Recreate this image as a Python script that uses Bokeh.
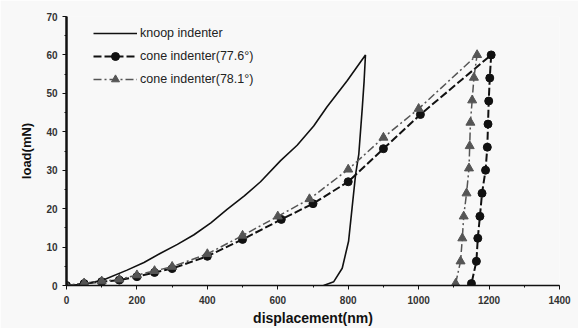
from bokeh.plotting import figure
from bokeh.models import Range1d, FixedTicker, Legend, LegendItem
from bokeh.embed import file_html
from bokeh.resources import INLINE

# knoop indenter (loading + unloading)
knoop_x = [0, 50, 106, 172, 220, 267, 315, 362, 410, 456, 505, 551, 608, 655, 702, 740, 797, 849,
           845, 840, 830, 821, 811, 801, 783, 759, 730]
knoop_y = [0, 0.3, 1.5, 4.0, 6.0, 8.4, 10.7, 13.2, 16.3, 19.8, 23.3, 27.0, 32.5, 36.5, 41.5, 46.5, 53.3, 60.0,
           53.0, 46.3, 34.1, 28.9, 20.2, 11.5, 4.5, 1.0, 0]

# cone indenter (77.6 deg)
cone776_x = [0, 50, 100, 150, 200, 250, 300, 400, 500, 610, 700, 800, 900, 1005, 1206,
             1202, 1199, 1197, 1195, 1190, 1180, 1174, 1168, 1164, 1150]
cone776_y = [0, 0.5, 1.0, 1.4, 2.3, 3.4, 4.4, 7.6, 12.0, 17.2, 21.3, 27.0, 35.6, 44.5, 60.0,
             54.0, 48.0, 42.0, 36.0, 30.0, 24.0, 18.0, 12.3, 6.3, 0.5]

# cone indenter (78.1 deg)
cone781_x = [0, 50, 100, 150, 200, 250, 300, 400, 500, 600, 690, 800, 900, 1000, 1166,
             1157, 1152, 1147, 1145, 1143, 1136, 1128, 1124, 1119, 1105]
cone781_y = [0, 0.6, 1.1, 1.6, 2.7, 3.8, 4.9, 8.2, 13.0, 18.0, 22.5, 30.2, 38.5, 46.0, 60.0,
             54.1, 48.2, 42.4, 36.3, 30.5, 24.0, 18.0, 12.3, 6.3, 0.5]

x_ticks = [0, 200, 400, 600, 800, 1000, 1200, 1400]
y_ticks = [0, 10, 20, 30, 40, 50, 60, 70]

BG = "#f8f8f8"
FONT = "Liberation Sans"

p = figure(width=578, height=328, output_backend="svg", toolbar_location=None,
           x_range=Range1d(0, 1400), y_range=Range1d(0, 70),
           min_border_left=66, min_border_right=19, min_border_top=16, min_border_bottom=36)
p.background_fill_color = BG
p.border_fill_color = BG
p.outline_line_color = None
p.grid.visible = False

r_k = p.line(knoop_x, knoop_y, line_color="#111111", line_width=1.6)

r_c1l = p.line(cone776_x, cone776_y, line_color="#111111", line_width=2, line_dash="8 3")
r_c1m = p.scatter(cone776_x, cone776_y, marker="circle", size=8, fill_color="#111111",
                  line_color="#111111")

r_c2l = p.line(cone781_x, cone781_y, line_color="#555555", line_width=1.5, line_dash="8 3 2 3")
r_c2m = p.scatter(cone781_x, cone781_y, marker="triangle", size=9, fill_color="#555555",
                  line_color="#555555")

for ax, ticks in ((p.xaxis, x_ticks), (p.yaxis, y_ticks)):
    ax.major_label_text_font = FONT
    ax.major_label_text_font_size = "10px"
    ax.major_label_text_font_style = "bold"
    ax.major_label_text_color = "#333333"
    ax.axis_label_text_font = FONT
    ax.axis_label_text_font_style = "bold"
    ax.axis_label_text_color = "#111111"
    ax.major_tick_in = 0
    ax.major_tick_out = 4
    ax.minor_tick_in = 0
    ax.minor_tick_out = 2
    ax.axis_line_color = "#111111"
    ax.major_tick_line_color = "#111111"
    ax.minor_tick_line_color = "#111111"

p.xaxis.ticker = FixedTicker(ticks=x_ticks, minor_ticks=list(range(0, 1401, 100)))
p.yaxis.ticker = FixedTicker(ticks=y_ticks, minor_ticks=list(range(0, 71, 5)))
p.xaxis.axis_label = "displacement(nm)"
p.yaxis.axis_label = "load(mN)"
p.xaxis.axis_label_text_font_size = "14px"
p.yaxis.axis_label_text_font_size = "13px"
p.xaxis.major_label_standoff = 6
p.xaxis.axis_label_standoff = 3
p.yaxis.axis_label_standoff = 9
p.yaxis.axis_line_width = 2.5
p.xaxis.axis_line_width = 1.5

legend = Legend(items=[
    LegendItem(label="knoop indenter", renderers=[r_k]),
    LegendItem(label="cone indenter(77.6°)", renderers=[r_c1l, r_c1m]),
    LegendItem(label="cone indenter(78.1°)", renderers=[r_c2l, r_c2m]),
], location=(27, 196))
legend.background_fill_alpha = 0
legend.border_line_color = None
legend.padding = 0
legend.margin = 0
legend.spacing = 3
legend.glyph_width = 44
legend.glyph_height = 20
legend.label_height = 20
legend.label_standoff = 3
legend.label_text_font = FONT
legend.label_text_font_size = "12.5px"
legend.label_text_color = "#222222"
p.add_layout(legend, "center")

open("out.html", "w").write(file_html(p, INLINE))
